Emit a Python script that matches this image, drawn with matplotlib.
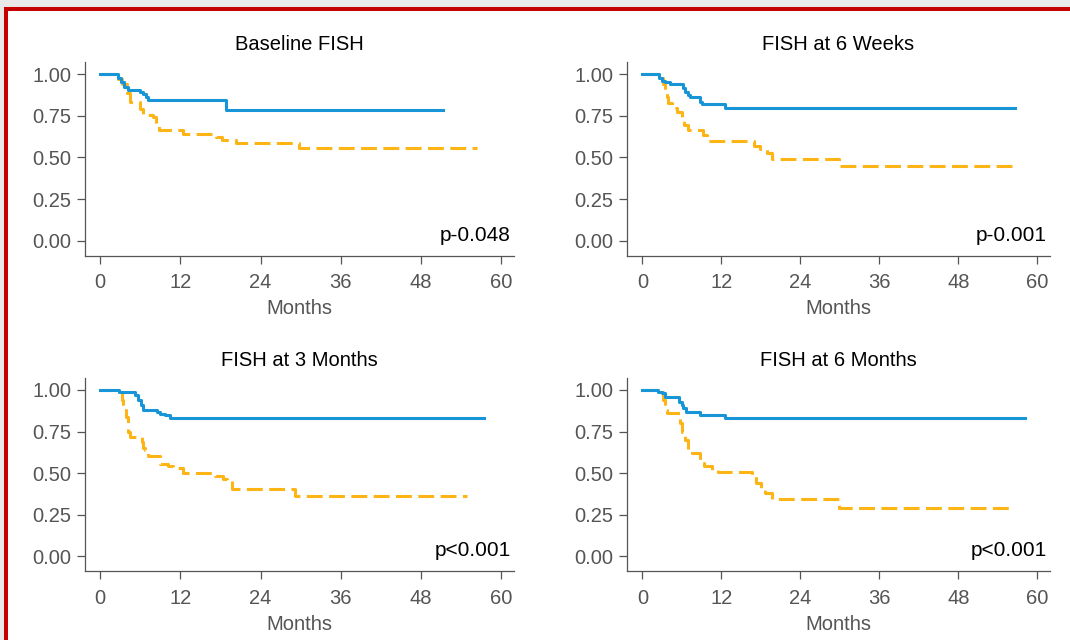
import matplotlib
matplotlib.use("Agg")
import matplotlib.pyplot as plt
from matplotlib.patches import Rectangle

plt.rcParams['font.family'] = ['Liberation Sans', 'DejaVu Sans']

# ---------------- data ----------------
titles = ["Baseline FISH", "FISH at 6 Weeks", "FISH at 3 Months", "FISH at 6 Months"]
pvalues = ["p-0.048", "p-0.001", "p<0.001", "p<0.001"]
xticks = [0, 12, 24, 36, 48, 60]
yticks = [0.0, 0.25, 0.50, 0.75, 1.00]
ytick_labels = ["0.00", "0.25", "0.50", "0.75", "1.00"]
xlabel = "Months"

# Baseline FISH
base_blue_t = [0, 2.7, 3.1, 3.5, 4.2, 5.9, 6.4, 6.8, 7.2, 18.9, 51.4]
base_blue_s = [1.0, 0.975, 0.95, 0.925, 0.905, 0.893, 0.88, 0.865, 0.843, 0.785, 0.785]
base_orng_t = [0, 2.7, 3.3, 4.0, 4.4, 5.9, 6.4, 7.9, 8.4, 8.8, 12.4, 17.4, 18.2, 20.4, 29.7, 56.4]
base_orng_s = [1.0, 0.97, 0.94, 0.884, 0.834, 0.79, 0.754, 0.74, 0.70, 0.664, 0.640, 0.625,
               0.604, 0.584, 0.558, 0.558]

# FISH at 6 weeks
w6_blue_t = [0, 2.6, 2.95, 3.45, 4.2, 6.2, 6.5, 7.0, 7.25, 8.8, 9.0, 12.6, 56.6]
w6_blue_s = [1.0, 0.974, 0.96, 0.954, 0.94, 0.914, 0.894, 0.874, 0.864, 0.834, 0.818, 0.798, 0.798]
w6_orng_t = [0, 2.6, 3.2, 3.5, 3.7, 3.95, 4.45, 5.2, 6.1, 6.35, 7.0, 9.2, 9.8, 16.9, 17.9,
             18.9, 19.65, 29.8, 57.1]
w6_orng_s = [1.0, 0.974, 0.94, 0.904, 0.86, 0.824, 0.794, 0.774, 0.744, 0.694, 0.664, 0.634,
             0.597, 0.57, 0.548, 0.528, 0.488, 0.448, 0.448]

# FISH at 3 months
m3_blue_t = [0, 2.8, 5.2, 5.7, 6.05, 6.35, 8.45, 8.95, 9.7, 10.45, 57.4]
m3_blue_s = [1.0, 0.99, 0.97, 0.94, 0.91, 0.88, 0.868, 0.858, 0.852, 0.834, 0.834]
m3_orng_t = [0, 2.8, 3.2, 3.45, 3.85, 4.2, 4.45, 6.2, 6.35, 6.7, 7.2, 8.95, 10.2, 10.9, 12.45,
             17.2, 18.4, 19.0, 19.7, 29.15, 54.9]
m3_orng_s = [1.0, 0.99, 0.94, 0.88, 0.84, 0.75, 0.72, 0.69, 0.65, 0.637, 0.605, 0.552, 0.545,
             0.532, 0.498, 0.482, 0.462, 0.452, 0.402, 0.362, 0.362]

# FISH at 6 months
m6_blue_t = [0, 2.45, 2.95, 3.45, 5.6, 6.0, 6.25, 6.65, 8.75, 12.55, 58.1]
m6_blue_s = [1.0, 0.99, 0.98, 0.96, 0.93, 0.91, 0.89, 0.867, 0.85, 0.83, 0.83]
m6_orng_t = [0, 2.45, 3.2, 3.45, 3.8, 5.7, 6.0, 6.25, 6.5, 7.0, 7.5, 8.75, 9.3, 10.6, 11.5,
             16.6, 17.3, 18.1, 18.65, 19.65, 29.8, 55.9]
m6_orng_s = [1.0, 0.99, 0.94, 0.88, 0.86, 0.80, 0.75, 0.73, 0.70, 0.64, 0.62, 0.56, 0.54,
             0.52, 0.505, 0.48, 0.44, 0.40, 0.38, 0.345, 0.29, 0.29]

blue_series = [(base_blue_t, base_blue_s), (w6_blue_t, w6_blue_s),
               (m3_blue_t, m3_blue_s), (m6_blue_t, m6_blue_s)]
orng_series = [(base_orng_t, base_orng_s), (w6_orng_t, w6_orng_s),
               (m3_orng_t, m3_orng_s), (m6_orng_t, m6_orng_s)]

# ---------------- style ----------------
BLUE = "#1895d6"
ORANGE = "#fdb515"
GRAY = "#555555"
SPINE = "#555555"
W, H = 1070, 640

fig = plt.figure(figsize=(W / 100, H / 100), dpi=100, facecolor="#e9e9e9")
# white panel with red frame (drawn behind the axes)
frame = Rectangle((6 / W, -0.2), 1.3, (H - 9) / H + 0.2, transform=fig.transFigure,
                  facecolor="white", edgecolor="#c40000", linewidth=2.9, zorder=-10)
fig.add_artist(frame)

# axes boxes in pixels: left, right, top, bottom
boxes = [(84.9, 513.6, 61.7, 255.7), (627.2, 1049.8, 61.7, 255.7),
         (84.9, 513.6, 377.6, 571.3), (627.2, 1049.8, 377.6, 571.3)]

for i, (l, r, t, b) in enumerate(boxes):
    ax = fig.add_axes([l / W, 1 - b / H, (r - l) / W, (b - t) / H])
    ax.set_zorder(5)
    ax.patch.set_visible(False)
    bt, bs = blue_series[i]
    ot, os_ = orng_series[i]
    ax.step(ot, os_, where="post", color=ORANGE, lw=2.2, linestyle=(0, (5.2, 2.1)))
    ax.step(bt, bs, where="post", color=BLUE, lw=2.2)
    ax.set_xlim(-2.3, 61.9)
    ax.set_ylim(-0.09, 1.074)
    ax.set_xticks(xticks)
    ax.set_xticklabels([str(v) for v in xticks])
    ax.set_yticks(yticks)
    ax.set_yticklabels(ytick_labels)
    for s in ("top", "right"):
        ax.spines[s].set_visible(False)
    for s in ("left", "bottom"):
        ax.spines[s].set_color(SPINE)
        ax.spines[s].set_linewidth(0.9)
    ax.tick_params(axis="both", direction="out", length=6, width=0.9, color=SPINE,
                   labelsize=14.5, labelcolor=GRAY)
    ax.tick_params(axis="x", pad=6.5)
    ax.tick_params(axis="y", pad=4)
    ax.set_xlabel(xlabel, fontsize=14.5, color=GRAY, labelpad=5)
    ax.set_title(titles[i], fontsize=14.5, color="black", pad=8.4)
    ax.text(0.993, 0.105, pvalues[i], transform=ax.transAxes, ha="right", va="center",
            fontsize=15, color="black")

fig.savefig("out.png", dpi=100, facecolor=fig.get_facecolor())
